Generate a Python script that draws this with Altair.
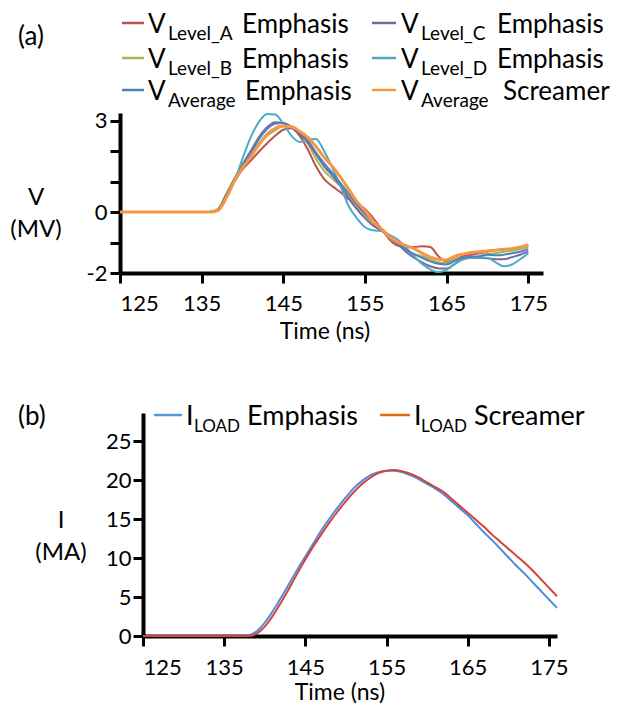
import altair as alt
import pandas as pd

# ---------------- data: panel (a) ----------------
T_A = [125] + list(range(136, 176))
V_LEVEL_A = [0, 0, 0.05, 0.5, 1.0, 1.4, 1.68, 1.98, 2.25, 2.5,
             2.7, 2.75, 2.5, 2.05, 1.5, 1.08, 0.85, 0.65, 0.42, 0.25,
             0.1, -0.2, -0.55, -0.9, -1.1, -1.15, -1.15, -1.12, -1.15, -1.45,
             -1.62, -1.55, -1.45, -1.4, -1.35, -1.3, -1.25, -1.22, -1.2, -1.15,
             -1.08]
V_LEVEL_B = [0, 0, 0.1, 0.6, 1.1, 1.55, 1.95, 2.25, 2.5, 2.68,
             2.82, 2.8, 2.6, 2.25, 1.75, 1.35, 1.1, 0.85, 0.55, 0.2,
             -0.1, -0.4, -0.6, -0.85, -1.05, -1.25, -1.38, -1.45, -1.55, -1.65,
             -1.68, -1.55, -1.5, -1.5, -1.45, -1.38, -1.35, -1.3, -1.27, -1.22,
             -1.15]
V_AVG_EMPH = [0, 0, 0.08, 0.5, 1.05, 1.5, 1.95, 2.38, 2.72, 2.9,
              2.92, 2.8, 2.62, 2.35, 1.95, 1.6, 1.28, 0.95, 0.6, 0.25,
              -0.05, -0.3, -0.55, -0.8, -1.02, -1.22, -1.38, -1.5, -1.62, -1.7,
              -1.72, -1.6, -1.5, -1.47, -1.45, -1.4, -1.42, -1.4, -1.35, -1.3,
              -1.22]
V_LEVEL_C = [0, 0, 0.08, 0.55, 1.05, 1.55, 2.0, 2.45, 2.78, 2.95,
             2.92, 2.78, 2.55, 2.28, 1.9, 1.5, 1.2, 0.85, 0.45, 0.1,
             -0.2, -0.45, -0.6, -0.8, -1.05, -1.3, -1.5, -1.65, -1.78, -1.85,
             -1.85, -1.7, -1.55, -1.5, -1.5, -1.52, -1.55, -1.55, -1.48, -1.4,
             -1.3]
V_LEVEL_D = [0, 0, 0.05, 0.5, 1.0, 1.75, 2.45, 2.95, 3.22, 3.2,
             2.9, 2.5, 2.3, 2.38, 2.4, 2.0, 1.45, 0.85, 0.2, -0.2,
             -0.5, -0.6, -0.62, -0.75, -0.9, -1.15, -1.45, -1.7, -1.88, -1.97,
             -1.9, -1.7, -1.55, -1.5, -1.48, -1.5, -1.65, -1.78, -1.72, -1.55,
             -1.35]
V_AVG_SCREAM = [0, 0, 0.05, 0.45, 1.0, 1.45, 1.8, 2.2, 2.55, 2.75,
                2.82, 2.8, 2.65, 2.45, 2.15, 1.8, 1.5, 1.15, 0.75, 0.35,
                0.05, -0.3, -0.55, -0.8, -0.98, -1.1, -1.2, -1.35, -1.48, -1.55,
                -1.57, -1.45, -1.38, -1.33, -1.3, -1.28, -1.25, -1.23, -1.2, -1.15,
                -1.08]

# legend pieces: (main, subscript, suffix)
SUB_A = ["Level_A", "Level_B", "Average", "Level_C", "Level_D", "Average"]
SUFFIX_A = ["Emphasis", "Emphasis", "Emphasis", "Emphasis", "Emphasis", "Screamer"]
COLORS_A = ["#C0504D", "#9BBB59", "#4F81BD", "#8064A2", "#4BACC6", "#F79646"]
VALUES_A = [V_LEVEL_A, V_LEVEL_B, V_AVG_EMPH, V_LEVEL_C, V_LEVEL_D, V_AVG_SCREAM]
DRAW_ORDER_A = [0, 1, 3, 4, 2, 5]

# ---------------- data: panel (b) ----------------
T_B = [125] + list(range(137, 177))
I_EMPH = [0, 0, 0.1, 0.6, 1.7, 3.2, 4.9, 6.7, 8.5, 10.2,
          11.9, 13.6, 15.1, 16.5, 17.8, 19.0, 19.9, 20.6, 21.0, 21.2,
          21.2, 21.0, 20.6, 20.1, 19.5, 18.9, 18.2, 17.3, 16.4, 15.5,
          14.4, 13.3, 12.3, 11.2, 10.1, 9.0, 8.0, 6.9, 5.8, 4.7,
          3.6]
I_SCREAM = [0, 0, 0.0, 0.3, 1.2, 2.6, 4.3, 6.1, 8.0, 9.8,
            11.5, 13.1, 14.6, 16.0, 17.3, 18.5, 19.5, 20.3, 20.9, 21.2,
            21.3, 21.1, 20.8, 20.3, 19.7, 19.1, 18.5, 17.6, 16.7, 15.8,
            14.9, 14.0, 13.0, 12.1, 11.2, 10.3, 9.4, 8.4, 7.3, 6.2,
            5.1]
SUFFIX_B = ["Emphasis", "Screamer"]
LINE_COLORS_B = ["#4A8FDB", "#D8403A"]
SWATCH_COLORS_B = ["#5B9BD5", "#E36C09"]

TICKS_X = [125, 135, 145, 155, 165, 175]
TICKS_VA = [-2, -1, 0, 1, 2, 3]
TICKS_IB = [0, 5, 10, 15, 20, 25]

FONT = "Lato"
W, H = 605, 701

axis_common = dict(
    grid=False, domainColor="black", domainWidth=4, tickColor="black",
    tickWidth=3, tickSize=10, labelColor="black", labelFont=FONT,
    labelFontSize=22, labelOverlap=False, title=None,
)

# ---------------- panel (a) ----------------
xa = alt.X("t:Q", scale=alt.Scale(domain=[125, 176.8], range=[112, 535], nice=False, zero=False),
           axis=alt.Axis(orient="bottom", offset=-(H - 265), values=TICKS_X, labelPadding=10, **axis_common))
ya = alt.Y("v:Q", scale=alt.Scale(domain=[-2, 3.25], range=[265, 105], nice=False, zero=False),
           axis=alt.Axis(orient="left", offset=-112, values=TICKS_VA, labelPadding=3,
                         labelExpr="datum.value == -2 ? '-2' : ((datum.value == 0 || datum.value == 3) ? datum.label : '')",
                         **axis_common))

layers_a = []
for i in DRAW_ORDER_A:
    df = pd.DataFrame({"t": T_A, "v": VALUES_A[i]})
    layers_a.append(
        alt.Chart(df).mark_line(color=COLORS_A[i], strokeWidth=3 if i == 5 else 2, interpolate="monotone")
        .encode(x=xa, y=ya)
    )
panel_a = alt.layer(*layers_a)

# ---------------- panel (b) ----------------
xb = alt.X("t:Q", scale=alt.Scale(domain=[125, 176], range=[135, 549], nice=False, zero=False),
           axis=alt.Axis(orient="bottom", offset=-(H - 628), values=TICKS_X, labelPadding=11, **axis_common))
yb = alt.Y("i:Q", scale=alt.Scale(domain=[0, 28.6], range=[628, 405], nice=False, zero=False),
           axis=alt.Axis(orient="left", offset=-135, values=TICKS_IB, labelPadding=2, **axis_common))

layers_b = []
for vals, col in zip([I_EMPH, I_SCREAM], LINE_COLORS_B):
    df = pd.DataFrame({"t": T_B, "i": vals})
    layers_b.append(alt.Chart(df).mark_line(color=col, strokeWidth=2, interpolate="monotone").encode(x=xb, y=yb))
panel_b = alt.layer(*layers_b)

# ---------------- decorations (text / legend) ----------------
BLANK = alt.Data(values=[{}])


def txt(s, x, y, size, align="left", baseline="alphabetic"):
    return alt.Chart(BLANK).mark_text(text=s, font=FONT, fontSize=size, color="black",
                                      align=align, baseline=baseline).encode(
        x=alt.value(x), y=alt.value(y))


def swatch(x1, x2, y, color):
    return alt.Chart(BLANK).mark_rule(color=color, strokeWidth=2.5).encode(
        x=alt.value(x1), x2=alt.value(x2), y=alt.value(y))


deco = []
# panel labels
deco.append(txt("(a)", 10, 37, 26))
deco.append(txt("(b)", 10, 417, 26))
# axis titles
deco.append(txt("V", 28, 197, 24, align="center"))
deco.append(txt("(MV)", 28, 229, 24, align="center"))
deco.append(txt("Time (ns)", 317, 331, 23, align="center"))
deco.append(txt("I", 53, 520, 24, align="center"))
deco.append(txt("(MA)", 53, 552, 24, align="center"))
deco.append(txt("Time (ns)", 332, 692, 23, align="center"))

# legend (a)
rows_base = [25, 60, 92]
for k in range(6):
    col = k // 3
    row = k % 3
    base = rows_base[row]
    if col == 0:
        sx1, sx2, vx, subx, sufx = 114, 136, 140, 160, 234 if row < 2 else 237
    else:
        sx1, sx2, vx, subx, sufx = 364, 388, 393, 413, 489 if row < 2 else 495
    deco.append(swatch(sx1, sx2, base - 10, COLORS_A[k]))
    deco.append(txt("V", vx, base, 26))
    deco.append(txt(SUB_A[k], subx, base + 7, 19))
    deco.append(txt(SUFFIX_A[k], sufx, base, 26))

# legend (b)
leg_b = [(146, 174, 178, 186, 239), (372, 402, 406, 413, 466)]
for (sx1, sx2, ix, subx, sufx), suf, col in zip(leg_b, SUFFIX_B, SWATCH_COLORS_B):
    deco.append(swatch(sx1, sx2, 407, col))
    deco.append(txt("I", ix, 417, 27))
    deco.append(txt("LOAD", subx, 424, 17))
    deco.append(txt(suf, sufx, 417, 27))

chart = (
    alt.layer(panel_a, panel_b, *deco)
    .resolve_scale(x="independent", y="independent")
    .properties(width=W, height=H, autosize=alt.AutoSizeParams(type="none"), padding=0)
    .configure_view(stroke=None)
)

chart.save("out.html", embed_options={"renderer": "svg", "actions": False})
